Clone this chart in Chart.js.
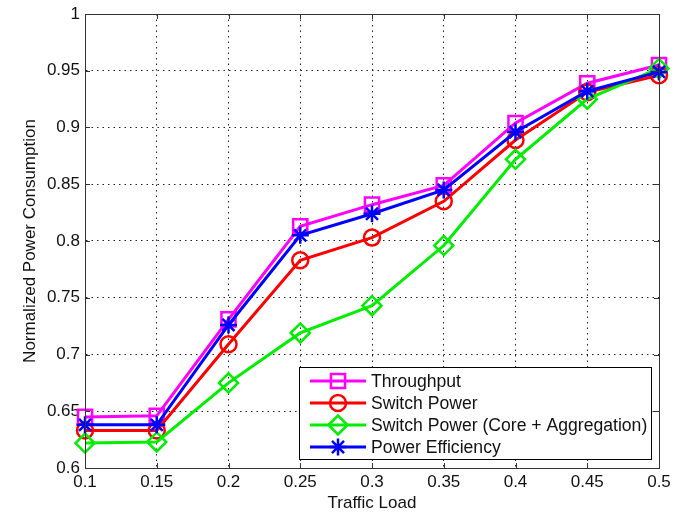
<!DOCTYPE html>
<html>
<head>
<meta charset="utf-8">
<script src="https://cdn.jsdelivr.net/npm/chart.js@4/dist/chart.umd.min.js"></script>
<style>
  body { margin: 0; background: #fff; }
  #wrap { width: 677px; height: 514px; }
</style>
</head>
<body>
<div id="wrap"><canvas id="chart" width="677" height="514"></canvas></div>
<script>
const xLabels = ['0.1', '0.15', '0.2', '0.25', '0.3', '0.35', '0.4', '0.45', '0.5'];
const yTickLabels = ['0.6', '0.65', '0.7', '0.75', '0.8', '0.85', '0.9', '0.95', '1'];

const throughput = [0.645, 0.646, 0.731, 0.813, 0.832, 0.849, 0.904, 0.939, 0.955];
const switchPower = [0.633, 0.633, 0.709, 0.783, 0.803, 0.835, 0.889, 0.931, 0.946];
const switchCoreAgg = [0.622, 0.623, 0.675, 0.719, 0.743, 0.796, 0.872, 0.925, 0.952];
const powerEff = [0.638, 0.638, 0.726, 0.805, 0.824, 0.845, 0.896, 0.932, 0.949];

const FONT = 'Arial, "Liberation Sans", Helvetica, sans-serif';

function series(label, data, color, style, radius, order) {
    return {
        label: label,
        data: data,
        borderColor: color,
        backgroundColor: 'rgba(0,0,0,0)',
        borderWidth: 3,
        pointStyle: style,
        pointRadius: radius,
        pointBorderWidth: 2.5,
        pointBorderColor: color,
        pointBackgroundColor: 'rgba(0,0,0,0)',
        tension: 0,
        order: order
    };
}

const datasets = [
    series('Throughput', throughput, '#ff00ff', 'rect', 10, 4),
    series('Switch Power', switchPower, '#ff0000', 'circle', 8, 3),
    series('Switch Power (Core + Aggregation)', switchCoreAgg, '#00ee00', 'rectRot', 9.5, 2),
    series('Power Efficiency', powerEff, '#0000ff', 'star', 8.5, 1)
];

// box, inward tick marks and the legend, matlab style
const matlabFrame = {
    id: 'matlabFrame',
    afterDraw(chart) {
        const ctx = chart.ctx;
        const a = chart.chartArea;
        const xs = chart.scales.x, ys = chart.scales.y;
        ctx.save();
        ctx.strokeStyle = '#333';
        ctx.lineWidth = 1;
        ctx.setLineDash([]);
        ctx.strokeRect(a.left + 0.5, a.top + 0.5, a.right - a.left, a.bottom - a.top);
        ctx.beginPath();
        for (let i = 0; i < xLabels.length; i++) {
            const px = Math.round(xs.getPixelForValue(i)) + 0.5;
            ctx.moveTo(px, a.bottom); ctx.lineTo(px, a.bottom - 5);
            ctx.moveTo(px, a.top); ctx.lineTo(px, a.top + 5);
        }
        ys.ticks.forEach(t => {
            const py = Math.round(ys.getPixelForValue(t.value)) + 0.5;
            ctx.moveTo(a.left, py); ctx.lineTo(a.left + 5, py);
            ctx.moveTo(a.right, py); ctx.lineTo(a.right - 5, py);
        });
        ctx.stroke();

        // legend
        const lx = 299, ly = 367, lw = 352, lh = 92;
        ctx.fillStyle = '#fff';
        ctx.fillRect(lx, ly, lw, lh);
        ctx.strokeStyle = '#000';
        ctx.strokeRect(lx + 0.5, ly + 0.5, lw, lh);
        ctx.font = '17.6px ' + FONT;
        ctx.textBaseline = 'middle';
        ctx.textAlign = 'left';
        chart.data.datasets.forEach((ds, i) => {
            const cy = ly + 14 + i * 22;
            ctx.strokeStyle = ds.borderColor;
            ctx.lineWidth = 3;
            ctx.beginPath();
            ctx.moveTo(lx + 11, cy); ctx.lineTo(lx + 67, cy);
            ctx.stroke();
            ctx.lineWidth = 2.5;
            ctx.fillStyle = 'rgba(0,0,0,0)';
            Chart.helpers.drawPoint(ctx, {
                pointStyle: ds.pointStyle,
                radius: ds.pointRadius,
                borderWidth: 2.5,
                rotation: 0
            }, lx + 39, cy);
            ctx.fillStyle = '#111';
            ctx.fillText(ds.label, lx + 72, cy + 1);
        });
        ctx.restore();
    }
};

new Chart(document.getElementById('chart'), {
    type: 'line',
    data: { labels: xLabels, datasets: datasets },
    options: {
        responsive: false,
        animation: false,
        layout: { padding: { top: 14, right: 18, left: 0, bottom: 0 } },
        plugins: { legend: { display: false }, tooltip: { enabled: false } },
        scales: {
            x: {
                type: 'category',
                offset: false,
                grid: { color: '#222', lineWidth: 1, drawTicks: false },
                border: { display: true, color: '#333', dash: [1.5, 4] },
                ticks: { color: '#111', padding: 6, maxRotation: 0, autoSkip: false,
                         font: { family: FONT, size: 17, lineHeight: 1 } },
                title: { display: true, text: 'Traffic Load', color: '#111',
                         font: { family: FONT, size: 17, lineHeight: 1 },
                         padding: { top: 0, bottom: 2 } },
                afterFit(s) { s.height = 46; }
            },
            y: {
                min: 0.6,
                max: 1,
                grid: { color: '#222', lineWidth: 1, drawTicks: false },
                border: { display: true, color: '#333', dash: [1.5, 4] },
                ticks: { stepSize: 0.05, color: '#111', padding: 5,
                         font: { family: FONT, size: 17, lineHeight: 1 },
                         callback: (v, i) => yTickLabels[i] },
                title: { display: true, text: 'Normalized Power Consumption', color: '#111',
                         font: { family: FONT, size: 17, lineHeight: 1 },
                         padding: { top: 22, bottom: 0 } },
                afterFit(s) { s.width = 85; }
            }
        }
    },
    plugins: [matlabFrame]
});
</script>
</body>
</html>
